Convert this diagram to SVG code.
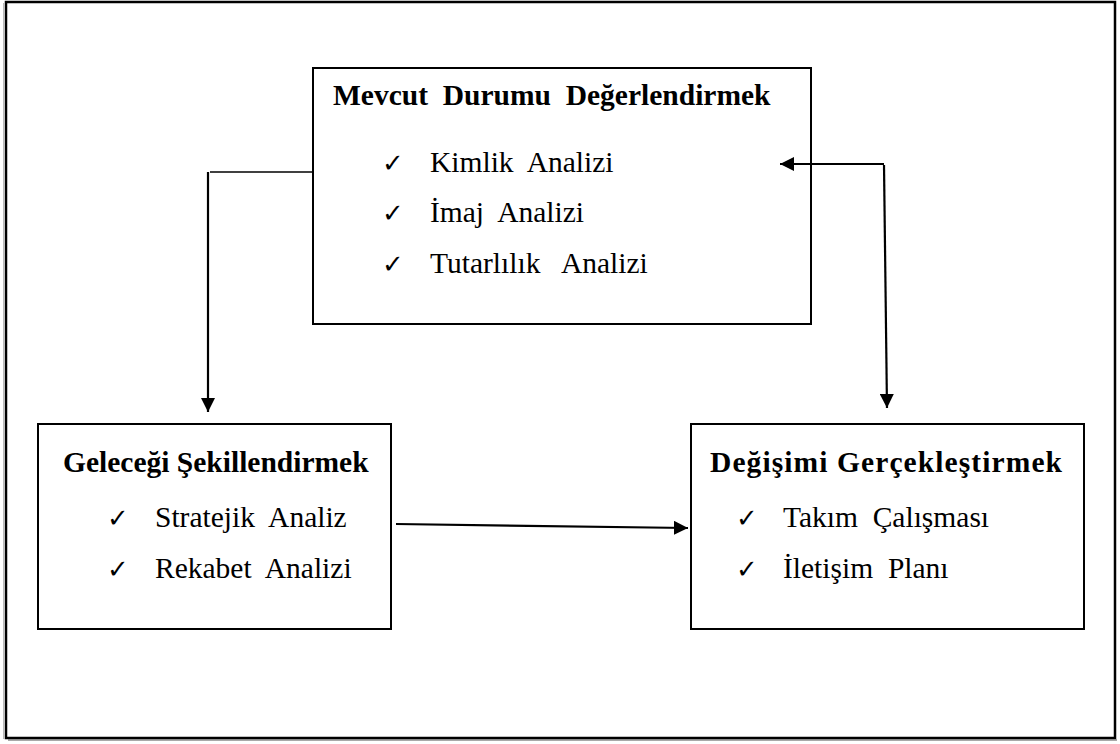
<svg xmlns="http://www.w3.org/2000/svg" width="1120" height="744" viewBox="0 0 1120 744">
  <style>
    .frame { fill: #ffffff; stroke: #000000; stroke-width: 2.5; }
    .box { fill: #ffffff; stroke: #000000; stroke-width: 2; }
    .title { font-family: "Liberation Serif", "Times New Roman", serif; font-weight: bold; font-size: 29.5px; fill: #000000; white-space: pre; }
    .item { font-family: "Liberation Serif", "Times New Roman", serif; font-size: 29.5px; fill: #000000; white-space: pre; }
    .tick { font-family: "DejaVu Sans", sans-serif; font-size: 26px; fill: #000000; }
    .link { fill: none; stroke: #000000; stroke-width: 2.2; }
    .thin { fill: none; stroke: #000000; stroke-width: 1.3; }
  </style>
  <defs>
    <marker id="arrow" viewBox="0 0 10 10" refX="10" refY="5" markerWidth="6.5" markerHeight="6.5" markerUnits="strokeWidth" orient="auto">
      <path d="M0,0 L10,5 L0,10 Z" fill="#000000"/>
    </marker>
  </defs>

  <rect width="1120" height="744" fill="#ffffff"/>
  <!-- outer frame with a light drop edge -->
  <rect class="frame" x="6" y="2" width="1109" height="736"/>
  <line x1="3.5" y1="3" x2="3.5" y2="739" stroke="#bbbbbb" stroke-width="1"/>
  <line x1="8" y1="740" x2="1117" y2="740" stroke="#555555" stroke-width="1"/>

  <g id="node-mevcut">
    <rect class="box" x="313" y="68" width="498" height="256"/>
    <text class="title" x="333" y="105">Mevcut  Durumu  Değerlendirmek</text>
    <text class="tick" x="382" y="172">✓</text>
    <text class="item" x="430" y="172">Kimlik  Analizi</text>
    <text class="tick" x="382" y="222">✓</text>
    <text class="item" x="430" y="222">İmaj  Analizi</text>
    <text class="tick" x="382" y="273">✓</text>
    <text class="item" x="430" y="273">Tutarlılık   Analizi</text>
  </g>

  <g id="node-gelecek">
    <rect class="box" x="38" y="424" width="353" height="205"/>
    <text class="title" x="63" y="472">Geleceği Şekillendirmek</text>
    <text class="tick" x="107" y="527">✓</text>
    <text class="item" x="155" y="527">Stratejik  Analiz</text>
    <text class="tick" x="107" y="578">✓</text>
    <text class="item" x="155" y="578">Rekabet  Analizi</text>
  </g>

  <g id="node-degisim">
    <rect class="box" x="691" y="424" width="393" height="205"/>
    <text class="title" x="710" y="472" textLength="352" lengthAdjust="spacing">Değişimi Gerçekleştirmek</text>
    <text class="tick" x="736" y="527">✓</text>
    <text class="item" x="783" y="527">Takım  Çalışması</text>
    <text class="tick" x="736" y="578">✓</text>
    <text class="item" x="783" y="578">İletişim  Planı</text>
  </g>

  <!-- connectors, drawn over the boxes -->
  <g id="connectors">
    <line class="thin" x1="313" y1="172" x2="210" y2="172"/>
    <line class="link" x1="208" y1="172" x2="208" y2="412" marker-end="url(#arrow)"/>
    <line class="link" x1="884" y1="164" x2="780" y2="164" marker-end="url(#arrow)"/>
    <line class="link" x1="884" y1="165" x2="887" y2="408" marker-end="url(#arrow)"/>
    <line class="link" x1="396" y1="524" x2="688" y2="528" marker-end="url(#arrow)"/>
  </g>
</svg>
